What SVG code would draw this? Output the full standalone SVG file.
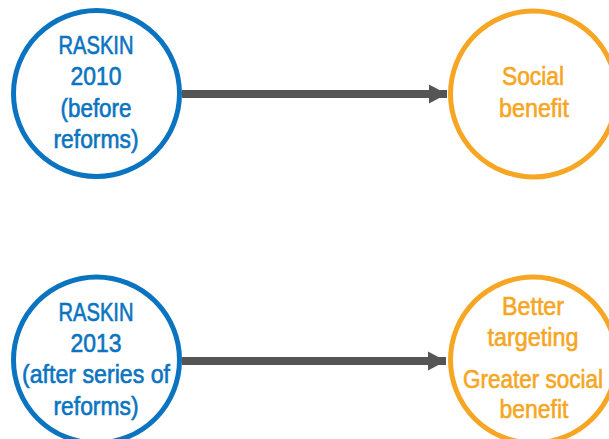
<svg xmlns="http://www.w3.org/2000/svg" width="609" height="439" viewBox="0 0 609 439">
  <style>
    .ring { fill: #ffffff; stroke-width: 5; }
    .blue { stroke: #0b74c0; }
    .orange { stroke: #f6a623; }
    .lbl { font-family: "Liberation Sans Narrow", "Liberation Sans", Arial, sans-serif; font-size: 25px; text-anchor: middle; stroke-width: 0.6px; }
    .lbl-blue { fill: #0b74c0; stroke: #0b74c0; }
    .lbl-orange { fill: #f6a623; stroke: #f6a623; }
    .link { stroke: #555555; stroke-width: 8; fill: none; }
  </style>
  <defs>
    <marker id="head" markerUnits="userSpaceOnUse" markerWidth="20" markerHeight="20" refX="18" refY="10" orient="auto">
      <path d="M0,0.5 L18,10 L0,19.5 Z" fill="#555555"/>
    </marker>
  </defs>
  <rect width="609" height="439" fill="#ffffff"/>

  <g id="connectors">
    <line class="link" x1="182" y1="94" x2="447" y2="94" marker-end="url(#head)"/>
    <line class="link" x1="182" y1="361" x2="446" y2="361" marker-end="url(#head)"/>
  </g>

  <g id="raskin-2010">
    <circle class="ring blue" cx="96.5" cy="93.5" r="83"/>
    <text class="lbl lbl-blue" x="96" y="54" textLength="75" lengthAdjust="spacingAndGlyphs">RASKIN</text>
    <text class="lbl lbl-blue" x="96" y="85" textLength="51" lengthAdjust="spacingAndGlyphs">2010</text>
    <text class="lbl lbl-blue" x="96" y="117" textLength="71" lengthAdjust="spacingAndGlyphs">(before</text>
    <text class="lbl lbl-blue" x="96" y="148" textLength="85" lengthAdjust="spacingAndGlyphs">reforms)</text>
  </g>

  <g id="social-benefit">
    <circle class="ring orange" cx="533.5" cy="94" r="83"/>
    <text class="lbl lbl-orange" x="533" y="85" textLength="62" lengthAdjust="spacingAndGlyphs">Social</text>
    <text class="lbl lbl-orange" x="534" y="117" textLength="70" lengthAdjust="spacingAndGlyphs">benefit</text>
  </g>

  <g id="raskin-2013">
    <circle class="ring blue" cx="96.5" cy="360" r="83"/>
    <text class="lbl lbl-blue" x="96" y="321" textLength="75" lengthAdjust="spacingAndGlyphs">RASKIN</text>
    <text class="lbl lbl-blue" x="96" y="352" textLength="51" lengthAdjust="spacingAndGlyphs">2013</text>
    <text class="lbl lbl-blue" x="96" y="383" textLength="148" lengthAdjust="spacingAndGlyphs">(after series of</text>
    <text class="lbl lbl-blue" x="96" y="415" textLength="85" lengthAdjust="spacingAndGlyphs">reforms)</text>
  </g>

  <g id="greater-social-benefit">
    <circle class="ring orange" cx="533.5" cy="360" r="83"/>
    <text class="lbl lbl-orange" x="533" y="315" textLength="62" lengthAdjust="spacingAndGlyphs">Better</text>
    <text class="lbl lbl-orange" x="533" y="346" textLength="91" lengthAdjust="spacingAndGlyphs">targeting</text>
    <text class="lbl lbl-orange" x="533" y="388" textLength="140" lengthAdjust="spacingAndGlyphs">Greater social</text>
    <text class="lbl lbl-orange" x="534" y="418" textLength="69" lengthAdjust="spacingAndGlyphs">benefit</text>
  </g>
</svg>
